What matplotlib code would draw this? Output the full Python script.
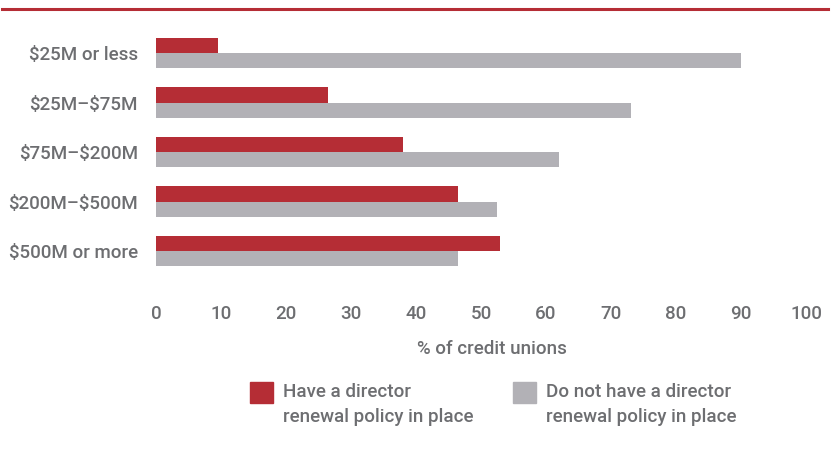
import matplotlib.pyplot as plt
import numpy as np
from matplotlib.patches import Rectangle
from matplotlib.lines import Line2D

plt.rcParams['font.family'] = ['Roboto', 'DejaVu Sans']
plt.rcParams['font.weight'] = 'medium'
plt.rcParams['text.parse_math'] = False

categories = ["$25M or less", "$25M\u2013$75M", "$75M\u2013$200M",
              "$200M\u2013$500M", "$500M or more"]
have_policy = [9.5, 26.5, 38, 46.5, 53]
no_policy = [90, 73, 62, 52.5, 46.5]
legend_labels = ["Have a director\nrenewal policy in place",
                 "Do not have a director\nrenewal policy in place"]

red = "#b52d35"
gray = "#b2b1b6"
txt = "#6d6e71"

fig = plt.figure(figsize=(8.37, 4.59), dpi=100)
ax = fig.add_axes([156 / 837, 1 - 275.75 / 459, 650 / 837, 247.5 / 459])

y = np.arange(len(categories))
h = 0.31
ax.barh(y - h / 2, have_policy, height=h, color=red)
ax.barh(y + h / 2, no_policy, height=h, color=gray)

ax.set_ylim(len(categories) - 0.5, -0.5)
ax.set_xlim(0, 100)
ax.set_xticks(range(0, 101, 10))
ax.set_yticks(y)
ax.set_yticklabels(categories)
ax.tick_params(length=0, labelsize=13.5, labelcolor=txt)
ax.tick_params(axis='x', pad=21)
ax.tick_params(axis='y', pad=13)
for s in ax.spines.values():
    s.set_visible(False)

fig.text(492 / 837, 1 - 349 / 459, "% of credit unions", ha='center', va='center',
         fontsize=13.5, color=txt)

# top rule
fig.add_artist(Line2D([2 / 837, 828 / 837], [1 - 8.5 / 459, 1 - 8.5 / 459],
                      color=red, linewidth=2.2))

# legend
for x0, col, lab in [(250, red, legend_labels[0]), (513, gray, legend_labels[1])]:
    fig.add_artist(Rectangle((x0 / 837, 1 - 403 / 459), 23 / 837, 21 / 459,
                             color=col, transform=fig.transFigure))
    fig.text((x0 + 33) / 837, 1 - 383 / 459, lab, ha='left', va='top',
             fontsize=13.5, color=txt, linespacing=1.5)

fig.savefig("out.png", dpi=100)
